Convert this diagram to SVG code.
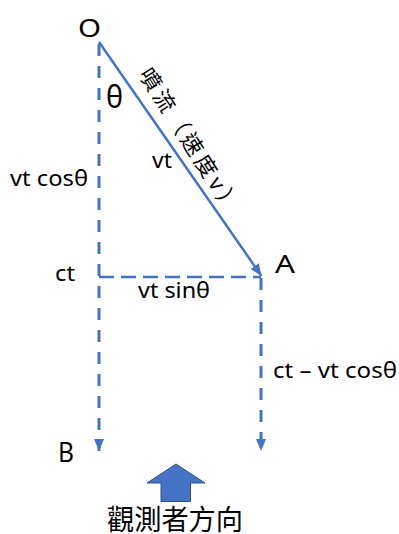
<svg xmlns="http://www.w3.org/2000/svg" width="399" height="534" viewBox="0 0 399 534">
<style>
.lbl{font-family:"Noto Sans","Liberation Sans",sans-serif;fill:#000}
.cjk{font-family:"Noto Sans CJK TC","Noto Sans CJK JP",sans-serif;fill:#000}
.dv{stroke:#4472C4;stroke-width:3;fill:none;stroke-dasharray:12 10}
.dh{stroke:#4472C4;stroke-width:2.7;fill:none;stroke-dasharray:15 7}
.solid{stroke:#4472C4;stroke-width:2.5;fill:none}
</style>
<defs>
<marker id="ah" viewBox="0 0 12 10" refX="12" refY="5" markerWidth="12" markerHeight="10" markerUnits="userSpaceOnUse" orient="auto">
<path d="M0,0 L12,5 L0,10 Z" fill="#4472C4"/>
</marker>
</defs>
<g id="connectors">
<line class="solid" x1="99" y1="42" x2="261.5" y2="276" marker-end="url(#ah)"/>
<line class="dv" x1="99" y1="44" x2="99" y2="451" marker-end="url(#ah)"/>
<line class="dh" x1="99" y1="277" x2="261" y2="277"/>
<line class="dv" x1="261" y1="278" x2="261" y2="451" marker-end="url(#ah)"/>
</g>
<g id="node-O"><text class="lbl" x="78" y="37" font-size="25" textLength="23" lengthAdjust="spacingAndGlyphs">O</text></g>
<g id="node-A"><text class="lbl" x="275" y="273" font-size="25" textLength="20" lengthAdjust="spacingAndGlyphs">A</text></g>
<g id="node-B"><text class="lbl" x="58" y="462" font-size="27" textLength="16" lengthAdjust="spacingAndGlyphs">B</text></g>
<g id="label-theta"><text class="lbl" x="106" y="108" font-size="30" textLength="17" lengthAdjust="spacingAndGlyphs">θ</text></g>
<g id="label-vtcos"><text class="lbl" x="10" y="186" font-size="21" textLength="78" lengthAdjust="spacingAndGlyphs">vt cosθ</text></g>
<g id="label-vt"><text class="lbl" x="152" y="168" font-size="21" textLength="20" lengthAdjust="spacingAndGlyphs">vt</text></g>
<g id="label-ct"><text class="lbl" x="55" y="281" font-size="21" textLength="20" lengthAdjust="spacingAndGlyphs">ct</text></g>
<g id="label-vtsin"><text class="lbl" x="138" y="298" font-size="21" textLength="72" lengthAdjust="spacingAndGlyphs">vt sinθ</text></g>
<g id="label-ctminus"><text class="lbl" x="273" y="378" font-size="21" textLength="124" lengthAdjust="spacingAndGlyphs">ct – vt cosθ</text></g>
<g id="label-jet"><text class="cjk" font-size="22" textLength="166" transform="translate(138,74.2) rotate(57.5)">噴流（速度v）</text></g>
<g id="observer">
<path d="M176,464 L205,483 L190.5,483 L190.5,501.5 L161,501.5 L161,483 L147,483 Z" fill="#4472C4" stroke="#2F528F" stroke-width="1"/>
<text class="cjk" x="107" y="530" font-size="28" textLength="136" lengthAdjust="spacingAndGlyphs">觀測者方向</text>
</g>
</svg>
